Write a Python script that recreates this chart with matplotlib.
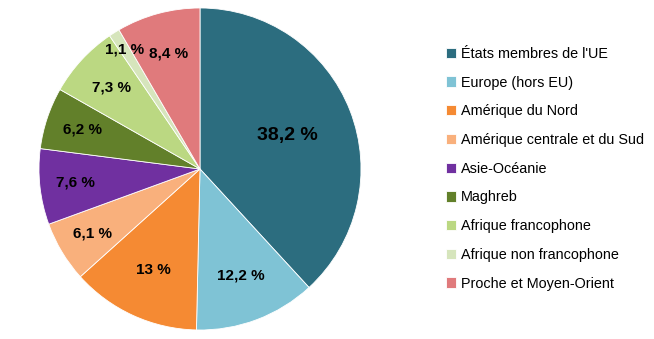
import numpy as np
import matplotlib
matplotlib.use("Agg")
import matplotlib.pyplot as plt

plt.rcParams['font.family'] = ['Liberation Sans', 'DejaVu Sans']

regions = ["États membres de l'UE", "Europe (hors EU)", "Amérique du Nord",
           "Amérique centrale et du Sud", "Asie-Océanie", "Maghreb",
           "Afrique francophone", "Afrique non francophone", "Proche et Moyen-Orient"]
shares = [38.2, 12.2, 13, 6.1, 7.6, 6.2, 7.3, 1.1, 8.4]
colors = ["#2C6D7F", "#7FC3D5", "#F58A33", "#F9B07C", "#7030A0",
          "#62802A", "#BBD882", "#D6E5BC", "#E07A7C"]

fig = plt.figure(figsize=(6.54, 3.39), dpi=100)
ax = fig.add_axes([0.0596, 0.0265, 0.4924, 0.950])

wedges, _ = ax.pie(shares, colors=colors, startangle=90, counterclock=False,
                   wedgeprops=dict(edgecolor='white', linewidth=0.6))
ax.set_aspect('equal')
ax.set_xlim(-1, 1)
ax.set_ylim(-1, 1)

def fmt(v):
    s = f"{v:g}".replace('.', ',')
    return s + " %"

# label distance from centre (fraction of radius)
dist = [0.58, 0.71, 0.69, 0.78, 0.78, 0.77, 0.75, 0.88, 0.74]
for w, v, d in zip(wedges, shares, dist):
    ang = np.deg2rad((w.theta1 + w.theta2) / 2)
    size = 14 if v > 30 else 11
    ax.text(d * np.cos(ang), d * np.sin(ang), fmt(v), ha='center', va='center',
            fontsize=size, fontweight='bold', color='black')

leg = fig.legend(wedges, regions, loc='upper left', bbox_to_anchor=(0.682, 0.862),
                 frameon=False, fontsize=10.4, handlelength=0.72, handleheight=0.72,
                 handletextpad=0.3, labelspacing=1.02, borderpad=0, borderaxespad=0)

fig.savefig("out.png", dpi=100)
